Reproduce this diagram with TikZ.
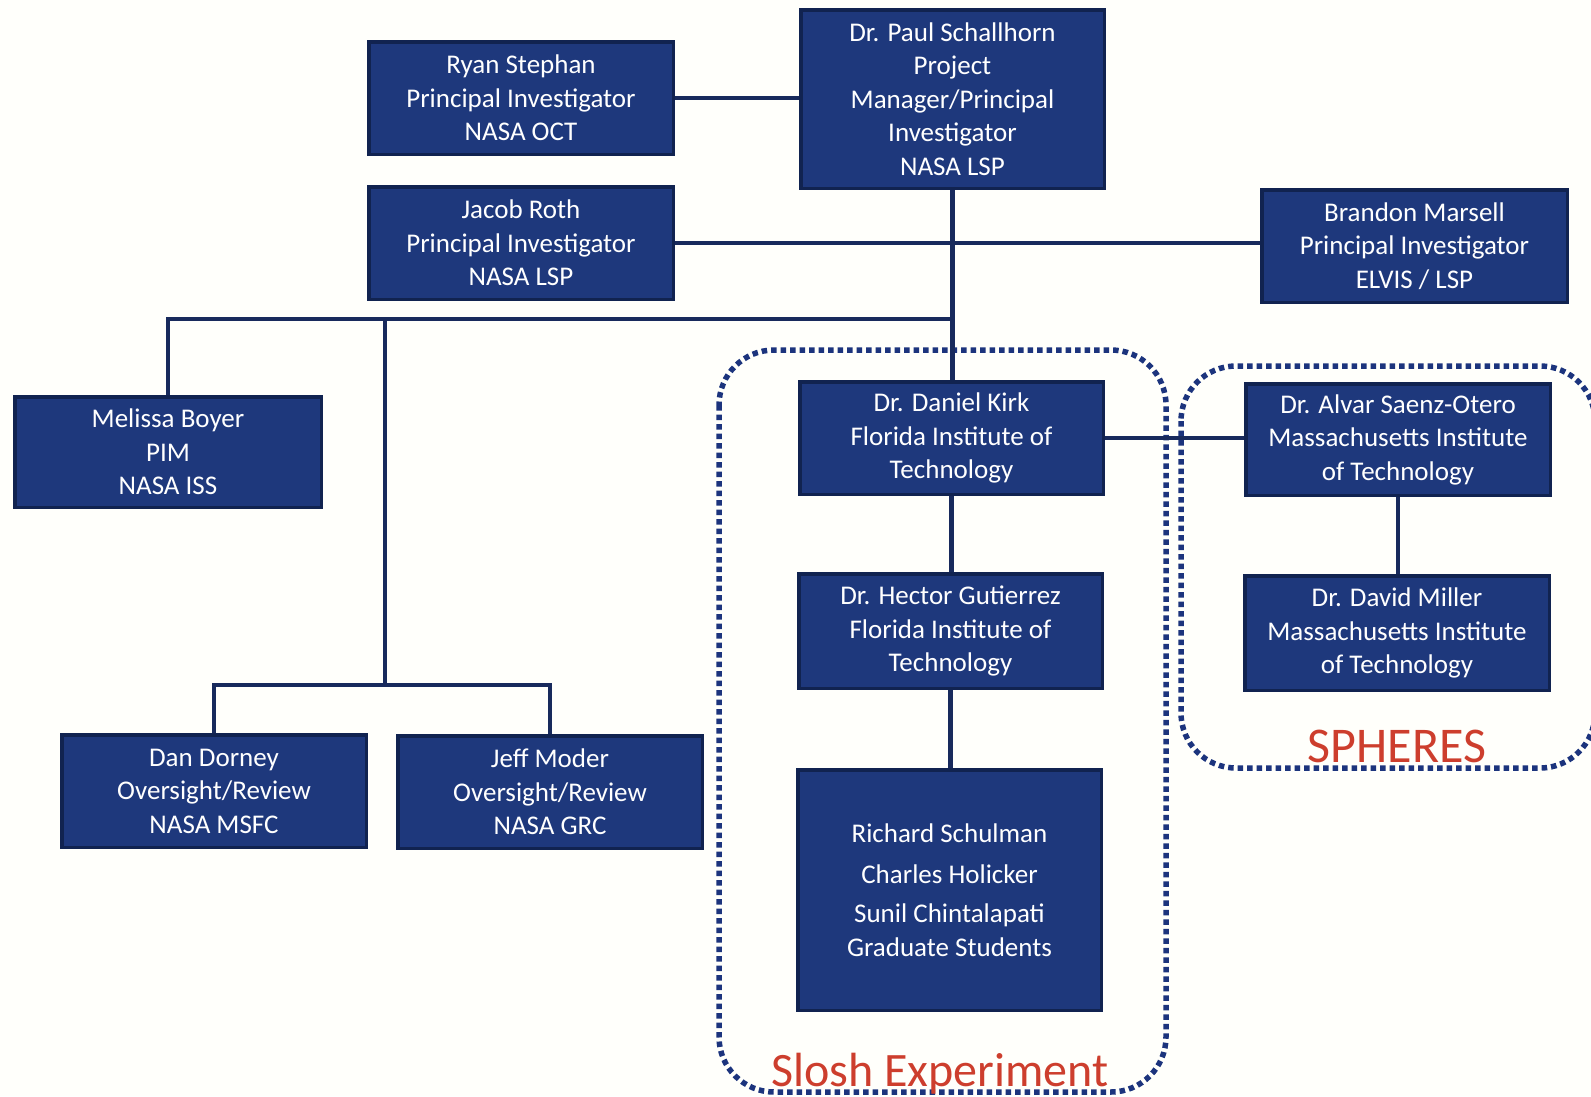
\documentclass[tikz,border=0pt]{standalone}
\usepackage{fontspec}
\setmainfont{Carlito}
\definecolor{boxfill}{RGB}{30,56,124}
\definecolor{boxedge}{RGB}{17,35,80}
\definecolor{linecol}{RGB}{24,42,92}
\definecolor{dotcol}{RGB}{28,52,125}
\definecolor{labred}{RGB}{205,62,45}
\definecolor{bgcol}{RGB}{255,255,251}
\begin{document}
\begin{tikzpicture}[x=1pt,y=-1pt,
  orgbox/.style={draw=boxedge, fill=boxfill, line width=3.5pt, text=white, align=center, inner sep=0pt, font=\fontsize{27}{33.5}\selectfont},
  conn/.style={draw=linecol, line width=4.5pt},
  groupline/.style={draw=dotcol, line width=5.5pt, dash pattern=on 5.5pt off 4pt, rounded corners=55pt},
  grouplabel/.style={text=labred, anchor=base, inner sep=0pt}]
\useasboundingbox (0,0) rectangle (1591,1096);
\clip (0,0) rectangle (1591,1096);
\fill[bgcol] (0,0) rectangle (1591,1096);

% group outlines
\draw[groupline] (719,350) rectangle (1166,1092);
\draw[groupline] (1181,366) rectangle (1595,768);

% boxes
\node[orgbox, minimum width=303.5pt, minimum height=178.5pt] (paul) at (952.5,99) {Dr. Paul Schallhorn\\Project\\Manager/Principal\\Investigator\\NASA LSP};
\node[orgbox, minimum width=304.5pt, minimum height=112.5pt] (ryan) at (521,98) {Ryan Stephan\\Principal Investigator\\NASA OCT};
\node[orgbox, minimum width=304.5pt, minimum height=112.5pt] (jacob) at (521,243) {Jacob Roth\\Principal Investigator\\NASA LSP};
\node[orgbox, minimum width=305.5pt, minimum height=112.5pt] (brandon) at (1414.5,246) {Brandon Marsell\\Principal Investigator\\ELVIS / LSP};
\node[orgbox, minimum width=306.5pt, minimum height=110.5pt] (melissa) at (168,452) {Melissa Boyer\\PIM\\NASA ISS};
\node[orgbox, minimum width=304.5pt, minimum height=112.5pt] (dan) at (214,791) {Dan Dorney\\Oversight/Review\\NASA MSFC};
\node[orgbox, minimum width=304.5pt, minimum height=112.5pt] (jeff) at (550,792) {Jeff Moder\\Oversight/Review\\NASA GRC};
\node[orgbox, minimum width=303.5pt, minimum height=112.5pt] (kirk) at (951.5,438) {Dr. Daniel Kirk\\Florida Institute of\\Technology};
\node[orgbox, minimum width=303.5pt, minimum height=114.5pt] (hector) at (950.5,631) {Dr. Hector Gutierrez\\Florida Institute of\\Technology};
\node[orgbox, minimum width=303.5pt, minimum height=240.5pt] (students) at (949.5,890) {Richard Schulman\\[7pt]Charles Holicker\\[6pt]Sunil Chintalapati\\Graduate Students};
\node[orgbox, minimum width=304.5pt, minimum height=111.5pt] (alvar) at (1398,439.5) {Dr. Alvar Saenz-Otero\\Massachusetts Institute\\of Technology};
\node[orgbox, minimum width=304.5pt, minimum height=114.5pt] (miller) at (1397,633) {Dr. David Miller\\Massachusetts Institute\\of Technology};

% junction points
\coordinate (busR) at (952.5,319);
\coordinate (busM) at (385,319);
\coordinate (subbus) at (385,685);

% connectors
\draw[conn] (ryan.east) -- (ryan.east -| paul.west);
\draw[conn] (paul.south) -- (paul.south |- kirk.north);
\draw[conn] (jacob.east) -- (jacob.east -| brandon.west);
\draw[conn] (melissa.north) |- (busR);
\draw[conn] (busM) -- (subbus);
\draw[conn] (dan.north) |- (subbus) -| (jeff.north);
\draw[conn] (kirk.east) -- (kirk.east -| alvar.west);
\draw[conn] (kirk.south) -- (kirk.south |- hector.north);
\draw[conn] (hector.south) -- (hector.south |- students.north);
\draw[conn] (alvar.south) -- (alvar.south |- miller.north);

% group labels
\node[grouplabel, font=\fontsize{48}{50}\selectfont] (sloshlbl) at (940,1086) {Slosh Experiment};
\node[grouplabel, font=\fontsize{50}{52}\selectfont] (spherelbl) at (1397,762) {SPHERES};
\end{tikzpicture}
\end{document}
